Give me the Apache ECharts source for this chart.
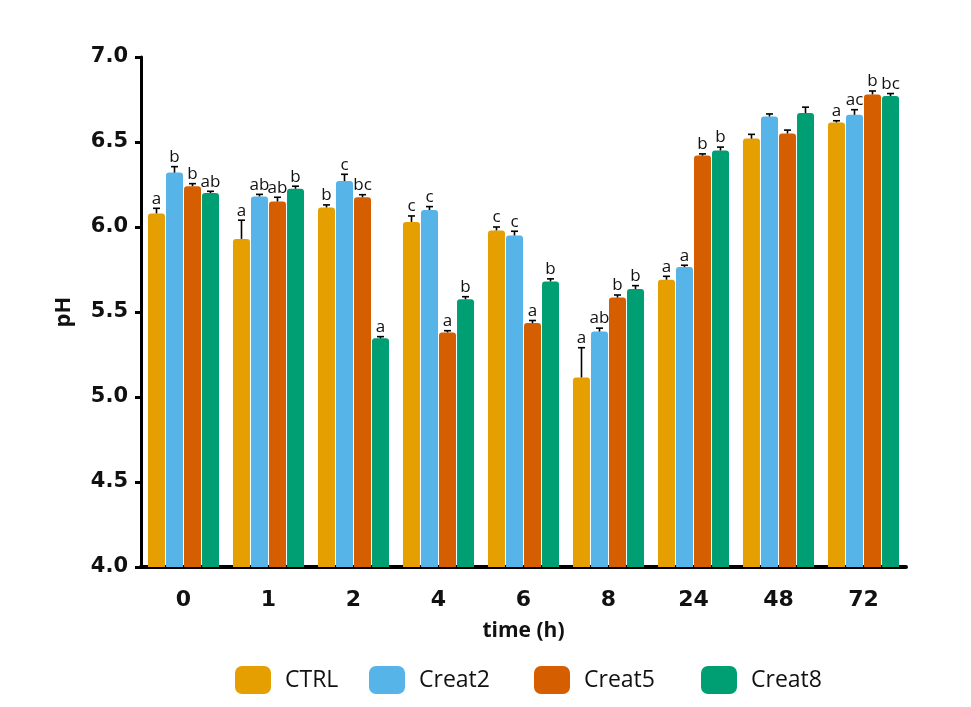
<!DOCTYPE html>
<html>
<head>
<meta charset="utf-8">
<script src="https://cdn.jsdelivr.net/npm/echarts@6/dist/echarts.min.js"></script>
<style>
  html, body { margin: 0; padding: 0; background: #ffffff; }
  #chart { width: 971px; height: 707px; }
</style>
</head>
<body>
<div id="chart"></div>
<script>
// Sampling times (h)
const times = ['0', '1', '2', '4', '6', '8', '24', '48', '72'];
const yTicks = [4.0, 4.5, 5.0, 5.5, 6.0, 6.5, 7.0];

// Mean pH per treatment
const ctrl   = [6.08, 5.93, 6.115, 6.03, 5.98, 5.115, 5.69, 6.52, 6.615];
const creat2 = [6.32, 6.18, 6.27, 6.10, 5.95, 5.385, 5.765, 6.65, 6.66];
const creat5 = [6.24, 6.15, 6.175, 5.38, 5.435, 5.585, 6.42, 6.55, 6.78];
const creat8 = [6.20, 6.225, 5.345, 5.575, 5.68, 5.635, 6.45, 6.67, 6.77];

// Standard deviations
const ctrlSd   = [0.03, 0.11, 0.015, 0.035, 0.02, 0.175, 0.02, 0.025, 0.01];
const creat2Sd = [0.035, 0.012, 0.04, 0.02, 0.025, 0.02, 0.01, 0.015, 0.03];
const creat5Sd = [0.015, 0.025, 0.015, 0.01, 0.015, 0.015, 0.01, 0.02, 0.02];
const creat8Sd = [0.01, 0.015, 0.01, 0.015, 0.015, 0.02, 0.02, 0.035, 0.015];

// Significance letters
const ctrlSig   = ['a', 'a', 'b', 'c', 'c', 'a', 'a', '', 'a'];
const creat2Sig = ['b', 'ab', 'c', 'c', 'c', 'ab', 'a', '', 'ac'];
const creat5Sig = ['b', 'ab', 'bc', 'a', 'a', 'b', 'b', '', 'b'];
const creat8Sig = ['ab', 'b', 'a', 'b', 'b', 'b', 'b', '', 'bc'];

const names  = ['CTRL', 'Creat2', 'Creat5', 'Creat8'];
const colors = ['#E69F00', '#56B4E9', '#D55E00', '#009E73'];
const means  = [ctrl, creat2, creat5, creat8];
const sds    = [ctrlSd, creat2Sd, creat5Sd, creat8Sd];
const sigs   = [ctrlSig, creat2Sig, creat5Sig, creat8Sig];

const BAR_W = 17;
const BAR_STEP = 18;
const NUM_FONT = '"DejaVu Sans", sans-serif';
const TEXT_FONT = '"Open Sans", sans-serif';
const legendLeft = [235, 369, 534, 701];

const chart = echarts.init(document.getElementById('chart'), null, { renderer: 'canvas' });

const barSeries = names.map((n, s) => ({
  name: n,
  type: 'bar',
  data: means[s],
  barWidth: BAR_W,
  barGap: '6%',
  itemStyle: { color: colors[s], borderRadius: [3, 3, 0, 0] },
  z: 2
}));

// Error bars (upper whisker with cap) and significance letters
const errSeries = names.map((n, s) => ({
  name: n + ' sd',
  type: 'custom',
  z: 5,
  silent: true,
  data: means[s].map((v, i) => [i, v, sds[s][i]]),
  renderItem: function (params, api) {
    const i = api.value(0);
    const v = api.value(1);
    const e = api.value(2);
    const off = (s - 1.5) * BAR_STEP;
    const base = api.coord([i, v]);
    const top = api.coord([i, v + e]);
    const x = base[0] + off;
    const children = [
      { type: 'line', shape: { x1: x, y1: base[1], x2: x, y2: top[1] },
        style: { stroke: '#000', lineWidth: 1.6 } },
      { type: 'line', shape: { x1: x - 3.5, y1: top[1], x2: x + 3.5, y2: top[1] },
        style: { stroke: '#000', lineWidth: 1.6 } }
    ];
    const letter = sigs[s][params.dataIndex];
    if (letter) {
      children.push({
        type: 'text',
        style: {
          x: x, y: top[1] - 1,
          text: letter,
          fill: '#111',
          font: '17px ' + TEXT_FONT,
          align: 'center',
          verticalAlign: 'bottom'
        }
      });
    }
    return { type: 'group', children: children };
  }
}));

// One legend block per treatment so each entry sits at its own spot
const legends = names.map((n, s) => ({
  data: [n],
  left: legendLeft[s],
  top: 666,
  padding: 0,
  icon: 'roundRect',
  itemWidth: 36,
  itemHeight: 28,
  textStyle: { fontFamily: TEXT_FONT, fontSize: 23, color: '#111', padding: [0, 0, 0, 9] }
}));

chart.setOption({
  backgroundColor: '#ffffff',
  animation: false,
  grid: { left: 141, right: 65, top: 57, bottom: 140 },
  legend: legends,
  xAxis: {
    type: 'category',
    data: times,
    name: 'time (h)',
    nameLocation: 'middle',
    nameGap: 54,
    nameTextStyle: { fontFamily: TEXT_FONT, fontSize: 21, fontWeight: 'bold', color: '#111' },
    axisLine: { lineStyle: { color: '#000', width: 4 } },
    axisTick: { alignWithLabel: true, length: 6, lineStyle: { color: '#000', width: 3 } },
    axisLabel: { fontFamily: NUM_FONT, fontSize: 22, fontWeight: 'bold', color: '#111', margin: 22 }
  },
  yAxis: {
    type: 'value',
    min: yTicks[0],
    max: yTicks[yTicks.length - 1],
    interval: 0.5,
    name: 'pH',
    nameLocation: 'middle',
    nameGap: 66,
    nameRotate: 90,
    nameTextStyle: { fontFamily: TEXT_FONT, fontSize: 22, fontWeight: 'bold', color: '#111' },
    splitLine: { show: false },
    axisLine: { show: true, lineStyle: { color: '#000', width: 3 } },
    axisTick: { show: true, length: 6, lineStyle: { color: '#000', width: 3 } },
    axisLabel: {
      fontFamily: NUM_FONT, fontSize: 21, fontWeight: 'bold', color: '#111', margin: 13,
      formatter: v => v.toFixed(1)
    }
  },
  series: barSeries.concat(errSeries)
});
</script>
</body>
</html>
